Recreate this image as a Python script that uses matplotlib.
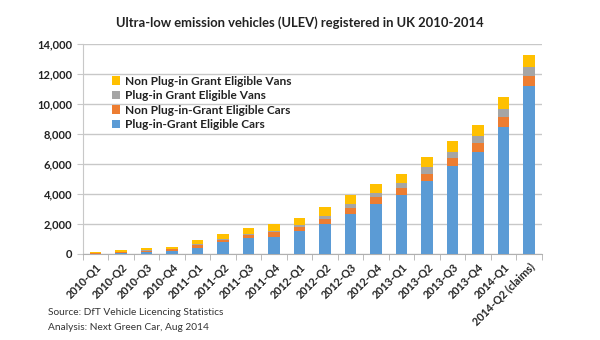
import matplotlib.pyplot as plt
import numpy as np
from matplotlib.ticker import FuncFormatter

plt.rcParams['font.family'] = ['Lato', 'DejaVu Sans']

quarters = ["2010-Q1", "2010-Q2", "2010-Q3", "2010-Q4",
            "2011-Q1", "2011-Q2", "2011-Q3", "2011-Q4",
            "2012-Q1", "2012-Q2", "2012-Q3", "2012-Q4",
            "2013-Q1", "2013-Q2", "2013-Q3", "2013-Q4",
            "2014-Q1", "2014-Q2 (claims)"]

grant_cars = [10, 40, 120, 210, 400, 800, 1090, 1160, 1530, 2000, 2670, 3330,
              3960, 4890, 5890, 6780, 8490, 11220]
non_grant_cars = [40, 110, 110, 110, 220, 160, 200, 320, 300, 360, 400, 460,
                  420, 440, 510, 620, 620, 620]
grant_vans = [0, 10, 10, 20, 20, 30, 40, 80, 100, 180, 270, 290,
              360, 440, 420, 440, 560, 600]
non_grant_vans = [50, 110, 130, 150, 290, 330, 380, 420, 490, 560, 560, 600,
                  600, 670, 690, 760, 780, 820]

series = [
    ("Plug-in-Grant Eligible Cars", grant_cars, "#5b9bd5"),
    ("Non Plug-in-Grant Eligible Cars", non_grant_cars, "#ed7d31"),
    ("Plug-in Grant Eligible Vans", grant_vans, "#a5a5a5"),
    ("Non Plug-in Grant Eligible Vans", non_grant_vans, "#ffc000"),
]

fig = plt.figure(figsize=(6, 3.4), dpi=100)
ax = fig.add_axes([0.138, 0.253, 0.765, 0.618])

x = np.arange(len(quarters))
bottom = np.zeros(len(quarters))
for label, vals, color in series:
    ax.bar(x, vals, 0.45, bottom=bottom, color=color, label=label, zorder=3)
    bottom += np.array(vals)

ax.set_xlim(-0.5, len(quarters) - 0.5)
ax.set_ylim(0, 14000)
ax.set_yticks(range(0, 14001, 2000))
ax.yaxis.set_major_formatter(FuncFormatter(lambda v, p: f"{int(v):,}"))
ax.grid(axis="y", color="#c8c8c8", linewidth=1, zorder=0)

for side in ["top", "right"]:
    ax.spines[side].set_visible(False)
ax.spines["left"].set_color("#c8c8c8")
ax.spines["bottom"].set_color("#b0b0b0")

ax.set_xticks(x)
ax.set_xticklabels(quarters, rotation=45, ha="right", rotation_mode="anchor",
                   fontsize=7.8, fontweight="bold", color="#222222")
ax.set_xticks(np.arange(-0.5, len(quarters)), minor=True)
ax.tick_params(axis="x", which="major", length=0, pad=5)
ax.tick_params(axis="x", which="minor", length=4, color="#b0b0b0")
ax.tick_params(axis="y", length=4, color="#c8c8c8", labelsize=8)
for t in ax.get_yticklabels():
    t.set_fontweight("bold")
    t.set_color("#222222")

handles, labels = ax.get_legend_handles_labels()
ax.legend(handles[::-1], labels[::-1], loc="upper left",
          bbox_to_anchor=(0.04, 0.9), frameon=False,
          prop={"size": 8.6, "weight": "bold"}, handlelength=0.7,
          handleheight=0.7, handletextpad=0.4, labelspacing=0.3,
          labelcolor="#222222")

fig.text(0.5, 0.932, "Ultra-low emission vehicles (ULEV) registered in UK 2010-2014",
         ha="center", va="center", fontsize=9.4, fontweight="bold", color="#222222")
fig.text(0.08, 0.08, "Source: DfT Vehicle Licencing Statistics",
         fontsize=7.3, color="#333333", va="center")
fig.text(0.08, 0.038, "Analysis: Next Green Car, Aug 2014",
         fontsize=7.3, color="#333333", va="center")

fig.savefig("out.png", dpi=100)
